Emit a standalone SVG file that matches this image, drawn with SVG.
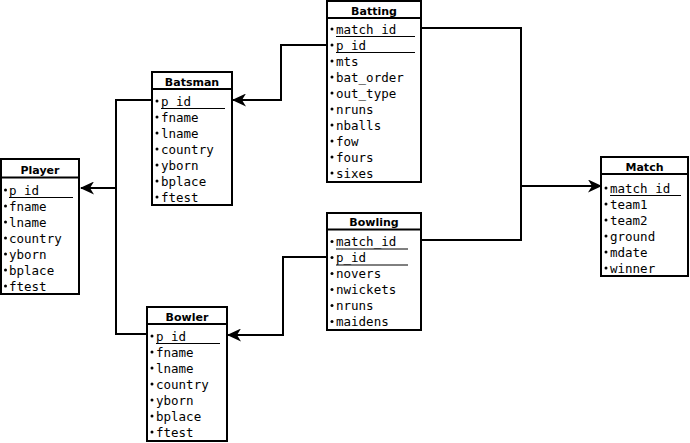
<svg xmlns="http://www.w3.org/2000/svg" width="690" height="443" viewBox="0 0 690 443">
<style>
.box{fill:#fff;stroke:#000;stroke-width:2}
.hl{stroke:#000;stroke-width:2}
.ul{stroke:#000;stroke-width:1}
.t{font-family:"DejaVu Sans",sans-serif;font-weight:bold;font-size:11px;text-anchor:middle;fill:#000}
.f{font-family:"DejaVu Sans Mono",monospace;font-size:12.5px;fill:#000}
.b{fill:#000}
.c{fill:none;stroke:#000;stroke-width:2}
</style>
<defs>
<marker id="arr" markerUnits="userSpaceOnUse" viewBox="0 0 14 13" refX="13" refY="6.5" markerWidth="14" markerHeight="13" orient="auto">
<path d="M14,6.5 L0,0 L4,6.5 L0,13 Z" fill="#000"/>
</marker>
</defs>
<g id="connectors">
<path class="c" d="M327,45 H281 V100 H233" marker-end="url(#arr)"/>
<path class="c" d="M152,100 H116 V188 H81" marker-end="url(#arr)"/>
<path class="c" d="M147,334 H116 V188"/>
<path class="c" d="M421,28 H521 V186 H601" marker-end="url(#arr)"/>
<path class="c" d="M421,240 H521 V186"/>
<path class="c" d="M327,257 H283 V335 H228" marker-end="url(#arr)"/>
</g>
<g id="Batting">
<rect class="box" x="327" y="1" width="94" height="181"/>
<line class="hl" x1="327" y1="18" x2="421" y2="18"/>
<text class="t" x="374" y="15">Batting</text>
<circle class="b" cx="332" cy="29" r="1.5"/><text class="f" x="336" y="33.5">match_id</text><line class="ul" x1="336" y1="36.5" x2="415" y2="36.5"/>
<circle class="b" cx="332" cy="45" r="1.5"/><text class="f" x="336" y="49.5">p_id</text><line class="ul" x1="336" y1="52.5" x2="415" y2="52.5"/>
<circle class="b" cx="332" cy="61" r="1.5"/><text class="f" x="336" y="65.5">mts</text>
<circle class="b" cx="332" cy="77" r="1.5"/><text class="f" x="336" y="81.5">bat_order</text>
<circle class="b" cx="332" cy="93" r="1.5"/><text class="f" x="336" y="97.5">out_type</text>
<circle class="b" cx="332" cy="109" r="1.5"/><text class="f" x="336" y="113.5">nruns</text>
<circle class="b" cx="332" cy="125" r="1.5"/><text class="f" x="336" y="129.5">nballs</text>
<circle class="b" cx="332" cy="141" r="1.5"/><text class="f" x="336" y="145.5">fow</text>
<circle class="b" cx="332" cy="157" r="1.5"/><text class="f" x="336" y="161.5">fours</text>
<circle class="b" cx="332" cy="173" r="1.5"/><text class="f" x="336" y="177.5">sixes</text>
</g>
<g id="Batsman">
<rect class="box" x="152" y="72" width="80" height="133"/>
<line class="hl" x1="152" y1="89" x2="232" y2="89"/>
<text class="t" x="192" y="85.5">Batsman</text>
<circle class="b" cx="157" cy="101" r="1.5"/><text class="f" x="161" y="105.5">p_id</text><line class="ul" x1="161" y1="108.5" x2="225" y2="108.5"/>
<circle class="b" cx="157" cy="117" r="1.5"/><text class="f" x="161" y="121.5">fname</text>
<circle class="b" cx="157" cy="133" r="1.5"/><text class="f" x="161" y="137.5">lname</text>
<circle class="b" cx="157" cy="149" r="1.5"/><text class="f" x="161" y="153.5">country</text>
<circle class="b" cx="157" cy="165" r="1.5"/><text class="f" x="161" y="169.5">yborn</text>
<circle class="b" cx="157" cy="181" r="1.5"/><text class="f" x="161" y="185.5">bplace</text>
<circle class="b" cx="157" cy="197" r="1.5"/><text class="f" x="161" y="201.5">ftest</text>
</g>
<g id="Player">
<rect class="box" x="1" y="159" width="78" height="135"/>
<line class="hl" x1="1" y1="177.5" x2="79" y2="177.5"/>
<text class="t" x="40" y="174">Player</text>
<circle class="b" cx="5.5" cy="190" r="1.5"/><text class="f" x="9" y="194.5">p_id</text><line class="ul" x1="9" y1="197.5" x2="73" y2="197.5"/>
<circle class="b" cx="5.5" cy="206" r="1.5"/><text class="f" x="9" y="210.5">fname</text>
<circle class="b" cx="5.5" cy="222" r="1.5"/><text class="f" x="9" y="226.5">lname</text>
<circle class="b" cx="5.5" cy="238" r="1.5"/><text class="f" x="9" y="242.5">country</text>
<circle class="b" cx="5.5" cy="254" r="1.5"/><text class="f" x="9" y="258.5">yborn</text>
<circle class="b" cx="5.5" cy="270" r="1.5"/><text class="f" x="9" y="274.5">bplace</text>
<circle class="b" cx="5.5" cy="286" r="1.5"/><text class="f" x="9" y="290.5">ftest</text>
</g>
<g id="Bowling">
<rect class="box" x="327" y="213" width="94" height="117"/>
<line class="hl" x1="327" y1="229.5" x2="421" y2="229.5"/>
<text class="t" x="374" y="226">Bowling</text>
<circle class="b" cx="332" cy="241.5" r="1.5"/><text class="f" x="336" y="246">match_id</text><line class="ul" x1="336" y1="249" x2="408" y2="249"/>
<circle class="b" cx="332" cy="257.5" r="1.5"/><text class="f" x="336" y="262">p_id</text><line class="ul" x1="336" y1="265" x2="408" y2="265"/>
<circle class="b" cx="332" cy="273.5" r="1.5"/><text class="f" x="336" y="278">novers</text>
<circle class="b" cx="332" cy="289.5" r="1.5"/><text class="f" x="336" y="294">nwickets</text>
<circle class="b" cx="332" cy="305.5" r="1.5"/><text class="f" x="336" y="310">nruns</text>
<circle class="b" cx="332" cy="321.5" r="1.5"/><text class="f" x="336" y="326">maidens</text>
</g>
<g id="Bowler">
<rect class="box" x="147" y="307" width="80" height="134"/>
<line class="hl" x1="147" y1="324" x2="227" y2="324"/>
<text class="t" x="187" y="320.5">Bowler</text>
<circle class="b" cx="152" cy="336" r="1.5"/><text class="f" x="156" y="340.5">p_id</text><line class="ul" x1="156" y1="343.5" x2="220" y2="343.5"/>
<circle class="b" cx="152" cy="352" r="1.5"/><text class="f" x="156" y="356.5">fname</text>
<circle class="b" cx="152" cy="368" r="1.5"/><text class="f" x="156" y="372.5">lname</text>
<circle class="b" cx="152" cy="384" r="1.5"/><text class="f" x="156" y="388.5">country</text>
<circle class="b" cx="152" cy="400" r="1.5"/><text class="f" x="156" y="404.5">yborn</text>
<circle class="b" cx="152" cy="416" r="1.5"/><text class="f" x="156" y="420.5">bplace</text>
<circle class="b" cx="152" cy="432" r="1.5"/><text class="f" x="156" y="436.5">ftest</text>
</g>
<g id="Match">
<rect class="box" x="601" y="157" width="87" height="119"/>
<line class="hl" x1="601" y1="174" x2="688" y2="174"/>
<text class="t" x="644.5" y="170.5">Match</text>
<circle class="b" cx="606" cy="188" r="1.5"/><text class="f" x="610" y="192.5">match_id</text><line class="ul" x1="610" y1="195.5" x2="681" y2="195.5"/>
<circle class="b" cx="606" cy="204" r="1.5"/><text class="f" x="610" y="208.5">team1</text>
<circle class="b" cx="606" cy="220" r="1.5"/><text class="f" x="610" y="224.5">team2</text>
<circle class="b" cx="606" cy="236" r="1.5"/><text class="f" x="610" y="240.5">ground</text>
<circle class="b" cx="606" cy="252" r="1.5"/><text class="f" x="610" y="256.5">mdate</text>
<circle class="b" cx="606" cy="268" r="1.5"/><text class="f" x="610" y="272.5">winner</text>
</g>
</svg>
